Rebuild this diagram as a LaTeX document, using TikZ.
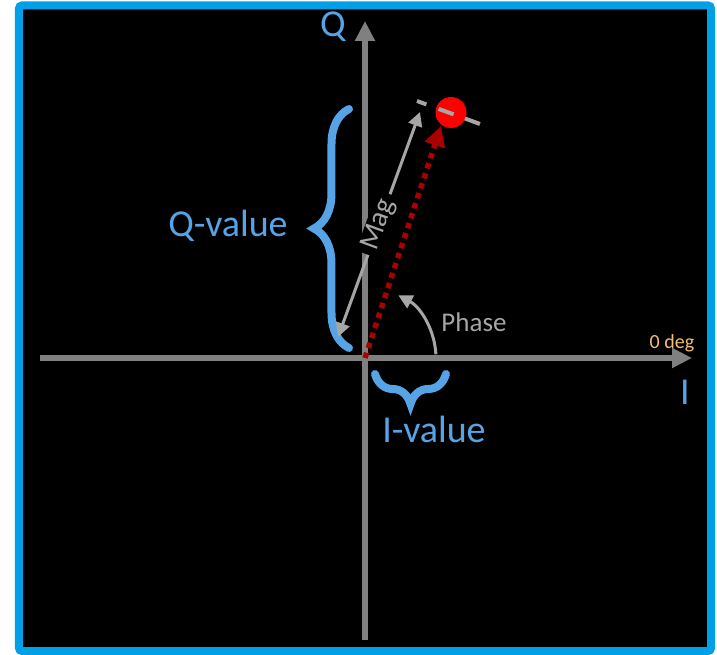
\documentclass[tikz,border=0pt]{standalone}
\usepackage{fontspec}
\setmainfont{Carlito}
\usepackage{tikz}
\usetikzlibrary{arrows.meta, decorations.pathreplacing}
\definecolor{iqblue}{RGB}{86,163,230}
\definecolor{frameblue}{RGB}{0,160,233}
\definecolor{axisgray}{RGB}{128,128,128}
\definecolor{phasegray}{RGB}{166,166,166}
\definecolor{vecred}{RGB}{170,0,0}
\definecolor{degorange}{RGB}{244,190,120}

\begin{document}
\begin{tikzpicture}[x=1pt, y=1pt,
  axis/.style={line width=6pt, draw=axisgray, -{Triangle[length=20pt, width=19pt]}},
  thinarrow/.style={line width=3pt, draw=phasegray},
  valbrace/.style={decorate, line width=8pt, draw=iqblue, line cap=round},
  bluelbl/.style={text=iqblue, font=\fontsize{38}{40}\selectfont},
  graylbl/.style={text=phasegray, font=\fontsize{27}{30}\selectfont}]
  \useasboundingbox (-365,-297) rectangle (352,358);
  % frame
  \draw[frameblue, line width=8pt, fill=black, rounded corners=3pt] (-346,-293) rectangle (346,352.5);
  % axes
  \coordinate (O) at (0,0);
  \coordinate (ileft) at (-325,0);
  \coordinate (iright) at (327,0);
  \coordinate (qbot) at (0,-282);
  \coordinate (qtop) at (0,337);
  \draw[axis] (ileft) -- (iright);
  \draw[axis] (qbot) -- (qtop);
  \node[bluelbl] (qlab) at (-32,331) {Q};
  \node[bluelbl] (ilab) at (320,-34) {I};
  \node[text=degorange, font=\fontsize{20}{22}\selectfont] (deg) at (307,15) {0 deg};
  % Q-value brace
  \coordinate (qb0) at (-16,10);
  \coordinate (qb1) at (-16,249);
  \draw[valbrace, decoration={brace, amplitude=35pt}] (qb0) -- (qb1);
  \node[bluelbl] (qval) at (-137,132) {Q-value};
  % I-value brace
  \coordinate (ib0) at (81,-16);
  \coordinate (ib1) at (10,-16);
  \draw[valbrace, decoration={brace, amplitude=30pt}] (ib0) -- (ib1);
  \node[bluelbl] (ival) at (69,-71) {I-value};
  % vector and electron
  \coordinate (vtip) at (76,232);
  \draw[vecred, line width=5.5pt, dash pattern=on 5.5pt off 5pt, -{Triangle[length=20pt, width=20pt]}] (O) -- (vtip);
  \node[circle, fill=red, minimum size=31pt, inner sep=0pt] (electron) at (86,245.5) {};
  \coordinate (m0) at (52,257);
  \coordinate (m1) at (115,234);
  \draw[phasegray, line width=4pt, dash pattern=on 10pt off 13pt on 16pt off 12pt on 16pt off 60pt] (m0) -- (m1);
  % Mag
  \coordinate (mag0) at (-27,21);
  \coordinate (mag1) at (55,246);
  \draw[thinarrow, {Triangle[length=14pt, width=14pt]}-{Triangle[length=14pt, width=14pt]}] (mag0) -- (mag1)
    node[midway, sloped, fill=black, inner xsep=6pt, inner ysep=1pt, graylbl, font=\fontsize{29}{31}\selectfont] (mag) {Mag};
  % Phase
  \coordinate (ph0) at (70.9,3.7);
  \draw[thinarrow, -{Triangle[length=14pt, width=14pt]}] (ph0) arc[start angle=3, end angle=62, radius=71];
  \node[graylbl] (phase) at (109,36) {Phase};
\end{tikzpicture}
\end{document}
